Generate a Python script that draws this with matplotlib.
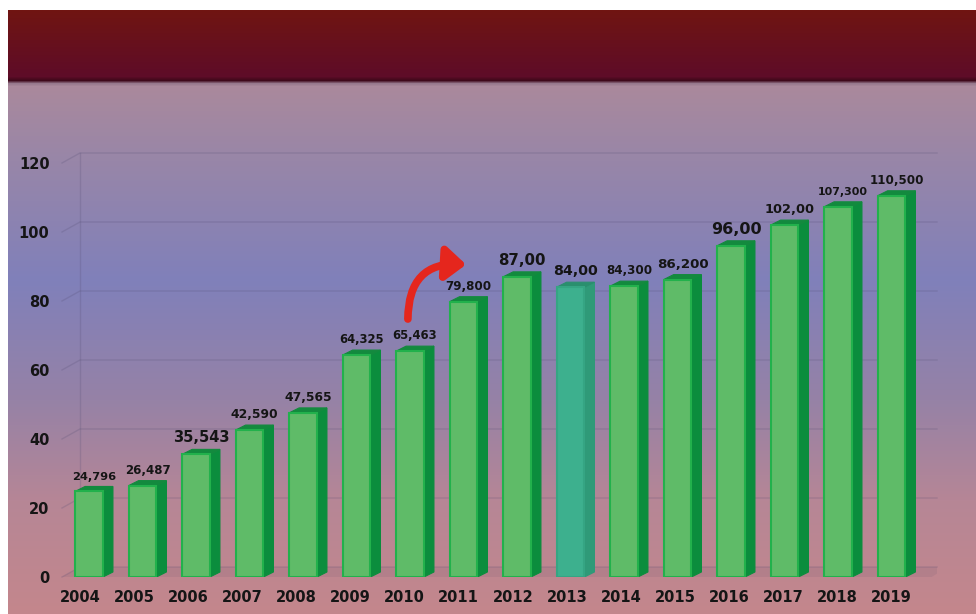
import numpy as np
import matplotlib.pyplot as plt
from matplotlib.patches import Polygon, FancyArrowPatch

# 数据
years = ['2004', '2005', '2006', '2007', '2008', '2009', '2010', '2011',
         '2012', '2013', '2014', '2015', '2016', '2017', '2018', '2019']
values = [24.796, 26.487, 35.543, 42.590, 47.565, 64.325, 65.463, 79.800,
          87.00, 84.00, 84.300, 86.200, 96.00, 102.00, 107.300, 110.500]
value_labels = ['24,796', '26,487', '35,543', '42,590', '47,565', '64,325',
                '65,463', '79,800', '87,00', '84,00', '84,300', '86,200',
                '96,00', '102,00', '107,300', '110,500']
yticks = [0, 20, 40, 60, 80, 100, 120]
highlight = '2013'

# 每个数值标签的字号
label_sizes = [8.2, 8.5, 10.5, 8.9, 8.9, 8.4, 8.4, 8.6, 10.8, 10.2, 8.6, 9.6,
               11.5, 9.3, 7.9, 8.6]

W, H = 976, 614
fig = plt.figure(figsize=(W / 100, H / 100), dpi=100)

# 背景: 顶部暗红色横条 + 紫蓝到粉色的渐变
bg = fig.add_axes([0, 0, 1, 1])
bg.set_axis_off()
rows = np.arange(H)
stop_y = [10, 76, 80, 83, 86, 160, 280, 400, 500, 614]
stop_c = np.array([(112, 21, 18), (94, 12, 40), (62, 8, 26), (150, 120, 140),
                   (170, 137, 156), (152, 134, 168), (128, 128, 186),
                   (150, 130, 166), (182, 134, 150), (196, 134, 140)]) / 255
img = np.ones((H, W, 3))
for c in range(3):
    col = np.interp(rows, stop_y, stop_c[:, c])
    img[:, :, c] = col[:, None]
img[:10, :, :] = 1
img[:, :8, :] = 1
bg.imshow(img, extent=(0, W, H, 0), aspect='auto')
bg.set_xlim(0, W)
bg.set_ylim(H, 0)

# 主坐标轴
x0, x1 = -0.505, 15.85
ax = fig.add_axes([62 / W, 37 / H, (937 - 62) / W, (577 - 163) / H])
ax.set_xlim(x0, x1)
ax.set_ylim(0, 120)
ax.patch.set_alpha(0)
for s in ax.spines.values():
    s.set_visible(False)

# 背墙网格线(带一点立体偏移)
wx, wy = 0.336, 2.9
grid_c = (0.33, 0.30, 0.45)
for v in yticks:
    ax.plot([x0, x0 + wx, x1], [v, v + wy, v + wy], color=grid_c, alpha=0.22,
            lw=1, zorder=1, clip_on=False)
ax.plot([x0 + wx, x0 + wx], [wy, 120 + wy], color=grid_c, alpha=0.22, lw=1,
        zorder=1, clip_on=False)
floor = Polygon([(x0, 0), (x1 - 0.1, 0), (x1 + 0.2, wy), (x0 + wx, wy)],
                closed=True, facecolor=(0.45, 0.35, 0.45), alpha=0.15,
                edgecolor='none', zorder=1)
ax.add_patch(floor)

# 立体柱子
x = np.arange(len(years))
bw = 0.52
dx, dy = 0.187, 1.45
for i, (yr, v) in enumerate(zip(years, values)):
    if yr == highlight:
        side, top = '#2f9a78', '#2a8f6e'
    else:
        side, top = '#0b8d3d', '#138a3e'
    xl, xr = x[i] - bw / 2, x[i] + bw / 2
    ax.add_patch(Polygon([(xr, 0), (xr + dx, dy), (xr + dx, v + dy), (xr, v)],
                         closed=True, facecolor=side, edgecolor=side,
                         lw=0.8, zorder=3))
    ax.add_patch(Polygon([(xl, v), (xr, v), (xr + dx, v + dy), (xl + dx, v + dy)],
                         closed=True, facecolor=top, edgecolor=top,
                         lw=0.8, zorder=3))
ax.bar(x, values, width=bw, color=['#3db08e' if y == highlight else '#5fbb68'
                                   for y in years],
       edgecolor=['#35a583' if y == highlight else '#22b14c' for y in years],
       linewidth=1.5, zorder=4)

# 数值标签
for i, v in enumerate(values):
    ax.annotate(value_labels[i], (x[i] + dx / 2, v + dy), xytext=(0, 5),
                textcoords='offset points', ha='center', va='baseline',
                fontsize=label_sizes[i], fontweight='bold', color='#151515',
                zorder=6, annotation_clip=False)

# 2010 -> 2011 的红色箭头
arrow = FancyArrowPatch((x[6] - 0.04, values[6] + 8.5), (x[7] + 0.1, values[7] + 10.7),
                        connectionstyle='arc3,rad=-0.55',
                        arrowstyle='-|>,head_length=0.6,head_width=0.5',
                        mutation_scale=20, color='#e5261d', lw=5.5, zorder=7,
                        clip_on=False)
ax.add_patch(arrow)

# 坐标轴刻度
ax.set_yticks(yticks)
ax.set_yticklabels([str(t) for t in yticks], fontsize=10.5, fontweight='bold',
                   color='#151515')
ax.set_xticks(x - 0.17 + 0.17 * x / 15)
ax.set_xticklabels(years, fontsize=10.5, fontweight='bold', color='#151515')
ax.tick_params(axis='y', length=0, pad=9)
ax.tick_params(axis='x', length=0, pad=9)

fig.savefig('out.png', dpi=100)
